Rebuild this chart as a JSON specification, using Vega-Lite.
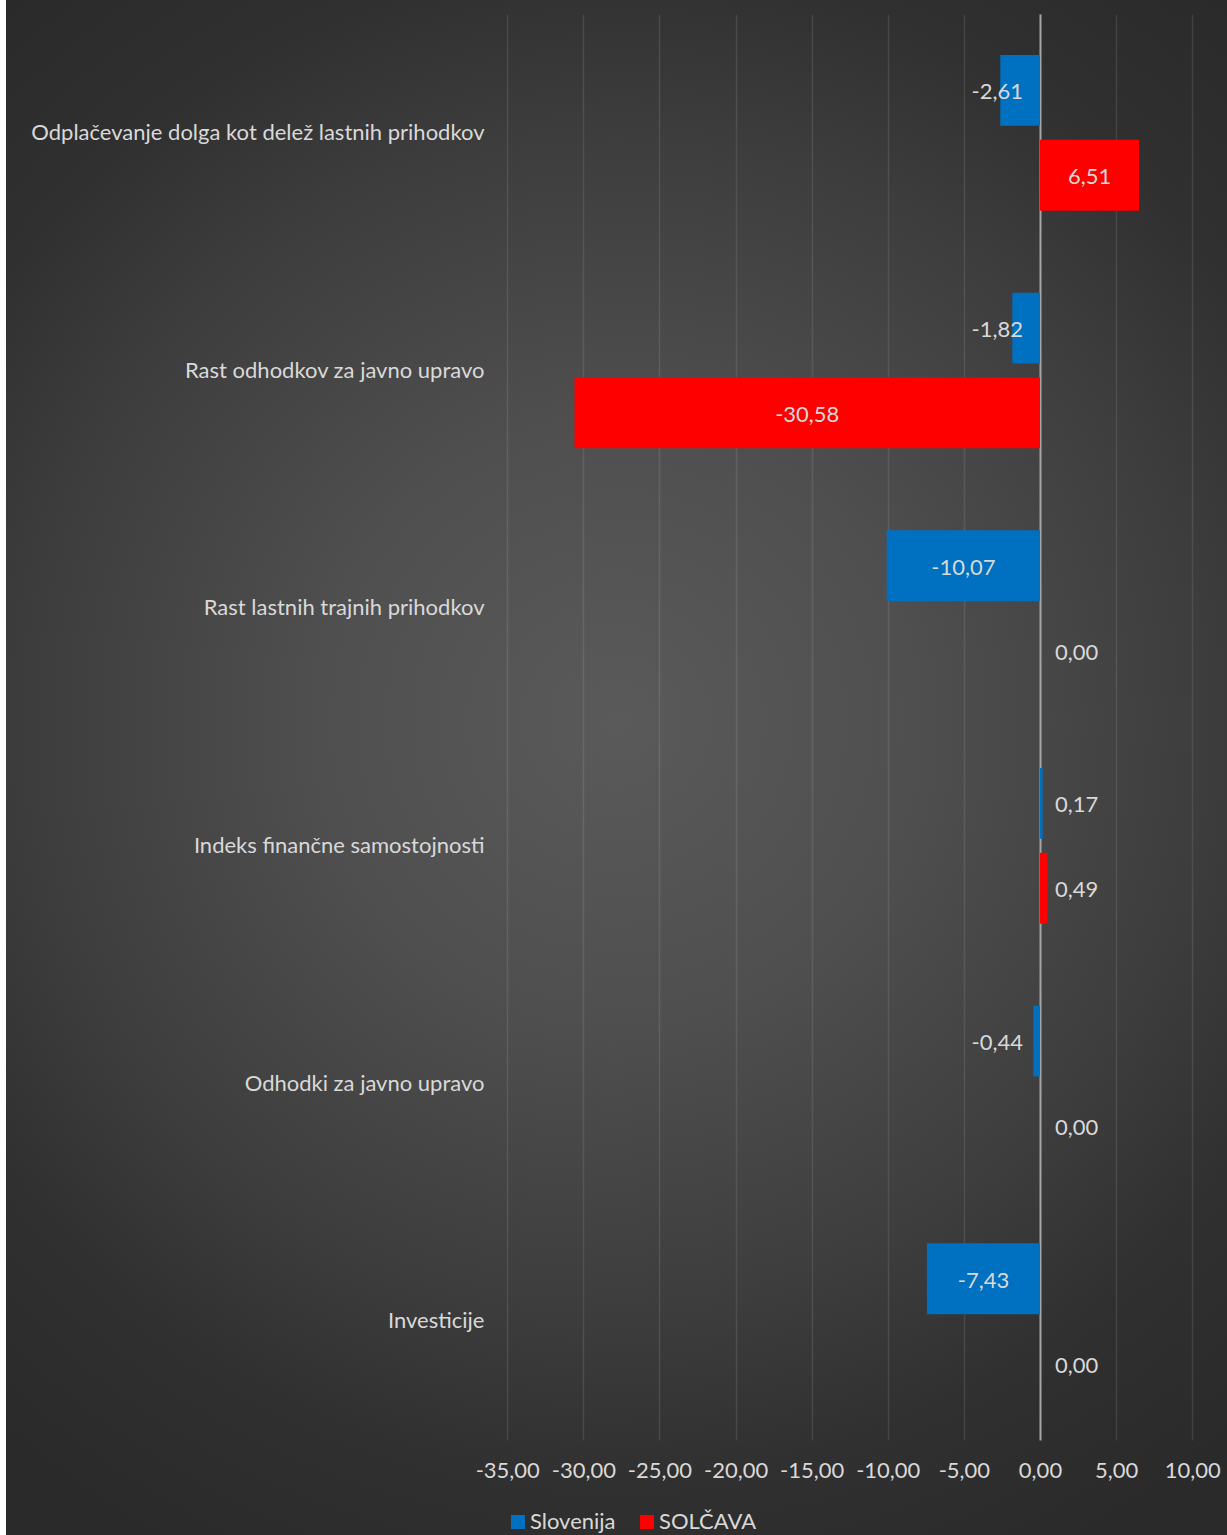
{
  "$schema": "https://vega.github.io/schema/vega-lite/v6.json",
  "width": 1227,
  "height": 1535,
  "autosize": {"type": "fit", "contains": "padding"},
  "padding": {"left": 6, "top": 0, "right": 0, "bottom": 0},
  "background": "#ffffff",
  "view": {
    "stroke": null,
    "fill": {
      "gradient": "radial",
      "x1": 0.5, "y1": 0.47, "r1": 0,
      "x2": 0.5, "y2": 0.47, "r2": 0.65,
      "stops": [
        {"offset": 0, "color": "#5a5a5a"},
        {"offset": 0.3, "color": "#4f4f4f"},
        {"offset": 0.59, "color": "#3d3d3d"},
        {"offset": 0.76, "color": "#303030"},
        {"offset": 0.95, "color": "#2a2a2a"},
        {"offset": 1, "color": "#2a2a2a"}
      ]
    }
  },
  "config": {
    "font": "Lato",
    "locale": {
      "number": {"decimal": ",", "thousands": ".", "grouping": [3], "currency": ["", " €"], "minus": "-"}
    }
  },
  "data": {
    "values": [
      {"kazalnik": "Odplačevanje dolga kot delež lastnih prihodkov", "serija": "Slovenija", "vrednost": -2.61},
      {"kazalnik": "Odplačevanje dolga kot delež lastnih prihodkov", "serija": "SOLČAVA", "vrednost": 6.51},
      {"kazalnik": "Rast odhodkov za javno upravo", "serija": "Slovenija", "vrednost": -1.82},
      {"kazalnik": "Rast odhodkov za javno upravo", "serija": "SOLČAVA", "vrednost": -30.58},
      {"kazalnik": "Rast lastnih trajnih prihodkov", "serija": "Slovenija", "vrednost": -10.07},
      {"kazalnik": "Rast lastnih trajnih prihodkov", "serija": "SOLČAVA", "vrednost": 0.0},
      {"kazalnik": "Indeks finančne samostojnosti", "serija": "Slovenija", "vrednost": 0.17},
      {"kazalnik": "Indeks finančne samostojnosti", "serija": "SOLČAVA", "vrednost": 0.49},
      {"kazalnik": "Odhodki za javno upravo", "serija": "Slovenija", "vrednost": -0.44},
      {"kazalnik": "Odhodki za javno upravo", "serija": "SOLČAVA", "vrednost": 0.0},
      {"kazalnik": "Investicije", "serija": "Slovenija", "vrednost": -7.43},
      {"kazalnik": "Investicije", "serija": "SOLČAVA", "vrednost": 0.0}
    ]
  },
  "encoding": {
    "y": {
      "field": "kazalnik",
      "type": "nominal",
      "sort": ["Odplačevanje dolga kot delež lastnih prihodkov", "Rast odhodkov za javno upravo", "Rast lastnih trajnih prihodkov", "Indeks finančne samostojnosti", "Odhodki za javno upravo", "Investicije"],
      "scale": {"range": [14, 1440], "paddingInner": 0.345, "paddingOuter": 0.1725},
      "axis": {
        "title": null,
        "orient": "left",
        "offset": -478,
        "domain": false,
        "ticks": false,
        "grid": false,
        "labelPadding": 0,
        "labelFontSize": 22,
        "labelColor": "#d9d9d9",
        "labelLimit": 600,
        "labelFont": "Lato"
      }
    },
    "yOffset": {
      "field": "serija",
      "type": "nominal",
      "sort": ["Slovenija", "SOLČAVA"],
      "scale": {"paddingInner": 0.165, "paddingOuter": 0}
    }
  },
  "resolve": {"axis": {"x": "independent"}},
  "layer": [
    {
      "mark": {"type": "bar"},
      "encoding": {
        "x": {
          "field": "vrednost",
          "type": "quantitative",
          "scale": {"domain": [-67.93, 12.285], "nice": false, "zero": false},
          "axis": {
            "title": null,
            "orient": "bottom",
            "offset": -95,
            "values": [-35, -30, -25, -20, -15, -10, -5, 0, 5, 10],
            "format": ".2f",
            "domain": false,
            "ticks": false,
            "grid": false,
            "labelPadding": 20,
            "labelFontSize": 22,
            "labelColor": "#d9d9d9",
            "labelFont": "Lato"
          }
        },
        "color": {
          "field": "serija",
          "type": "nominal",
          "sort": ["Slovenija", "SOLČAVA"],
          "scale": {"domain": ["Slovenija", "SOLČAVA"], "range": ["#0070c0", "#ff0000"]},
          "legend": {
            "title": null,
            "orient": "none",
            "legendX": 501,
            "legendY": 1511,
            "direction": "horizontal",
            "symbolType": "square",
            "symbolSize": 196,
            "symbolStrokeWidth": 0,
            "labelFontSize": 22,
            "labelColor": "#d9d9d9",
            "labelFont": "Lato",
            "labelOffset": 1,
            "columnPadding": 20
          }
        }
      }
    },
    {
      "transform": [
        {"filter": "abs(datum.vrednost) >= 5"},
        {"calculate": "datum.vrednost / 2", "as": "sredina"}
      ],
      "mark": {"type": "text", "align": "center", "baseline": "middle", "fontSize": 22, "color": "#d9d9d9", "font": "Lato", "dy": 2},
      "encoding": {
        "x": {
          "field": "sredina",
          "type": "quantitative",
          "axis": {
            "title": null,
            "orient": "top",
            "offset": 0,
            "values": [-35, -30, -25, -20, -15, -10, -5, 0, 5, 10],
            "domain": false,
            "ticks": false,
            "labels": false,
            "grid": true,
            "gridColor": {"condition": {"test": "datum.value === 0", "value": "#a6a6a6"}, "value": "#ffffff"},
            "gridOpacity": {"condition": {"test": "datum.value === 0", "value": 1}, "value": 0.1},
            "gridWidth": {"condition": {"test": "datum.value === 0", "value": 2}, "value": 1.5}
          }
        },
        "text": {"field": "vrednost", "type": "quantitative", "format": ".2f"}
      }
    },
    {
      "transform": [
        {"filter": "abs(datum.vrednost) < 5 && datum.vrednost < 0"}
      ],
      "mark": {"type": "text", "align": "right", "baseline": "middle", "fontSize": 22, "color": "#d9d9d9", "font": "Lato", "dx": -17, "dy": 2},
      "encoding": {
        "x": {"datum": 0, "type": "quantitative", "axis": null},
        "text": {"field": "vrednost", "type": "quantitative", "format": ".2f"}
      }
    },
    {
      "transform": [
        {"filter": "abs(datum.vrednost) < 5 && datum.vrednost >= 0"}
      ],
      "mark": {"type": "text", "align": "left", "baseline": "middle", "fontSize": 22, "color": "#d9d9d9", "font": "Lato", "dx": 15, "dy": 2},
      "encoding": {
        "x": {"datum": 0, "type": "quantitative", "axis": null},
        "text": {"field": "vrednost", "type": "quantitative", "format": ".2f"}
      }
    }
  ]
}
